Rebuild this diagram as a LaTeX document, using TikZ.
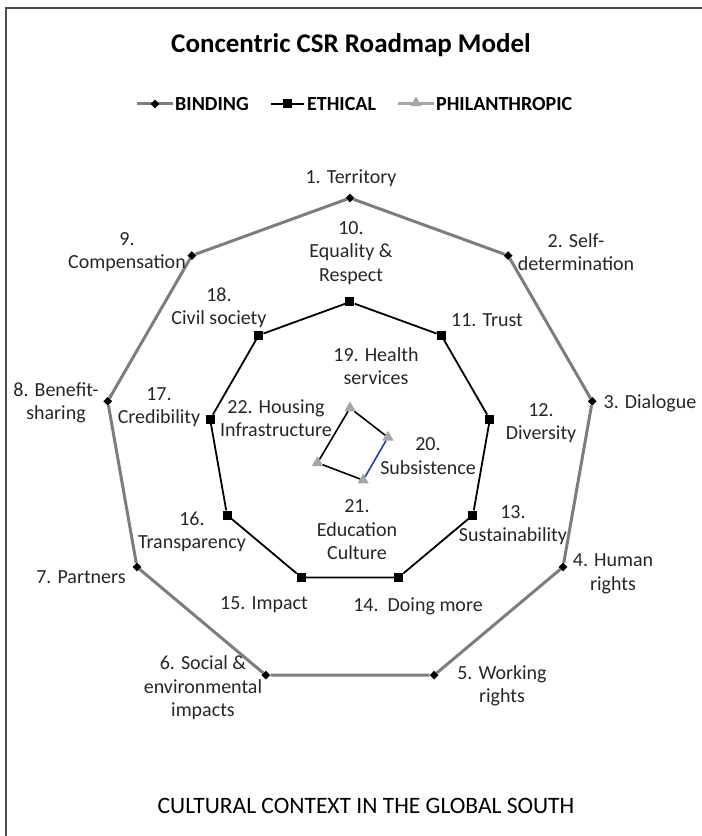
\documentclass[tikz,border=0pt]{standalone}
\usepackage{fontspec}
\setmainfont{Carlito}
\usetikzlibrary{shapes.geometric}
\definecolor{bindgray}{RGB}{125,125,125}
\definecolor{philgray}{RGB}{165,165,165}
\definecolor{segblue}{RGB}{35,65,160}
\tikzset{
  bmark/.style={diamond,fill=black,inner sep=0pt,minimum size=9pt},
  emark/.style={rectangle,fill=black,inner sep=0pt,minimum size=9pt},
  pmark/.style={regular polygon,regular polygon sides=3,fill=philgray,inner sep=0pt,minimum size=13pt},
  bline/.style={draw=bindgray,line width=3pt},
  eline/.style={draw=black,line width=1.8pt},
  pline/.style={draw=black,line width=1.6pt},
  lbl/.style={align=center,inner sep=0pt,font=\fontsize{20}{23.5}\selectfont,text=black!85},
  legtxt/.style={anchor=west,inner sep=0pt,font=\bfseries\fontsize{20}{22}\selectfont},
}
\begin{document}
\begin{tikzpicture}[x=1pt,y=1pt]
\useasboundingbox (-350,-392) rectangle (352,444);
% frame
\coordinate (fa) at (-344,-392);
\coordinate (fb) at (-344,436);
\coordinate (fc) at (352,436);
\draw[gray!60!black,line width=1.5pt] (fa) -- (fb) -- (fc);

% title and legend
\node[font=\bfseries\fontsize{27}{30}\selectfont] (title) at (1,399) {Concentric CSR Roadmap Model};
\coordinate (lb1) at (-213,340); \coordinate (lb2) at (-177,340);
\coordinate (le1) at (-79,340);  \coordinate (le2) at (-46,340);
\coordinate (lp1) at (48,340);   \coordinate (lp2) at (84,340);
\draw[bline] (lb1) -- (lb2);
\draw[eline] (le1) -- (le2);
\draw[philgray,line width=3pt] (lp1) -- (lp2);
\node[bmark] (lgb) at (-195,340) {};
\node[emark] (lge) at (-62,340) {};
\node[pmark] (lgp) at (66,341) {};
\node[legtxt] (tb) at (-175,340) {BINDING};
\node[legtxt] (te) at (-43,340) {ETHICAL};
\node[legtxt] (tp) at (86,340) {PHILANTHROPIC};

% binding ring
\node[bmark] (b1) at (90:246) {};
\node[bmark] (b2) at (50:246) {};
\node[bmark] (b3) at (10:246) {};
\node[bmark] (b4) at (-30:246) {};
\node[bmark] (b5) at (-70:246) {};
\node[bmark] (b6) at (-110:246) {};
\node[bmark] (b7) at (-150:246) {};
\node[bmark] (b8) at (170:246) {};
\node[bmark] (b9) at (130:246) {};
\draw[bline] (b1) -- (b2) -- (b3) -- (b4) -- (b5) -- (b6) -- (b7) -- (b8) -- (b9) -- (b1);

% ethical ring
\node[emark] (e1) at (90:142) {};
\node[emark] (e2) at (50:142) {};
\node[emark] (e3) at (10:142) {};
\node[emark] (e4) at (-30:142) {};
\node[emark] (e5) at (-70:142) {};
\node[emark] (e6) at (-110:142) {};
\node[emark] (e7) at (-150:142) {};
\node[emark] (e8) at (170:142) {};
\node[emark] (e9) at (130:142) {};
\draw[eline] (e1) -- (e2) -- (e3) -- (e4) -- (e5) -- (e6) -- (e7) -- (e8) -- (e9) -- (e1);

% philanthropic
\node[pmark] (p1) at (90:36) {};
\node[pmark] (p2) at (10:38.5) {};
\node[pmark] (p3) at (-70:38.5) {};
\node[pmark] (p4) at (-150:37.5) {};
\draw[pline] (p1) -- (p2);
\draw[segblue,line width=1.6pt] (p2) -- (p3);
\draw[pline] (p3) -- (p4) -- (p1);

% labels
\node[lbl] (l1) at (1,266) {1. Territory};
\node[lbl] (l2) at (226,192) {2. Self-\\determination};
\node[lbl] (l3) at (300,41) {3. Dialogue};
\node[lbl] (l4) at (263,-130) {4. Human\\rights};
\node[lbl] (l5) at (152,-242) {5. Working\\rights};
\node[lbl] (l6) at (-147,-244) {6. Social \&\\environmental\\impacts};
\node[lbl] (l7) at (-269,-133) {7. Partners};
\node[lbl] (l8) at (-294,41) {8. Benefit-\\sharing};
\node[lbl] (l9) at (-223,192) {9.\\Compensation};
\node[lbl] (l10) at (1,191) {10.\\Equality \&\\Respect};
\node[lbl] (l11) at (137,124) {11. Trust};
\node[lbl] (l12) at (191,21) {12.\\Diversity};
\node[lbl] (l13) at (163,-81) {13.\\Sustainability};
\node[lbl] (l14) at (68,-162) {14.\ \ Doing more};
\node[lbl] (l15) at (-86,-161) {15. Impact};
\node[lbl] (l16) at (-158,-88) {16.\\Transparency};
\node[lbl] (l17) at (-191,37) {17.\\Credibility};
\node[lbl] (l18) at (-131,136) {18.\\Civil society};
\node[lbl] (l19) at (26,78) {19. Health\\services};
\node[lbl] (l20) at (78,-12) {20.\\Subsistence};
\node[lbl] (l21) at (7,-86) {21.\\Education\\Culture};
\node[lbl] (l22) at (-74,26) {22. Housing\\Infrastructure};

\node[font=\fontsize{23.5}{26}\selectfont] (foot) at (16,-362) {CULTURAL CONTEXT IN THE GLOBAL SOUTH};
\end{tikzpicture}
\end{document}
